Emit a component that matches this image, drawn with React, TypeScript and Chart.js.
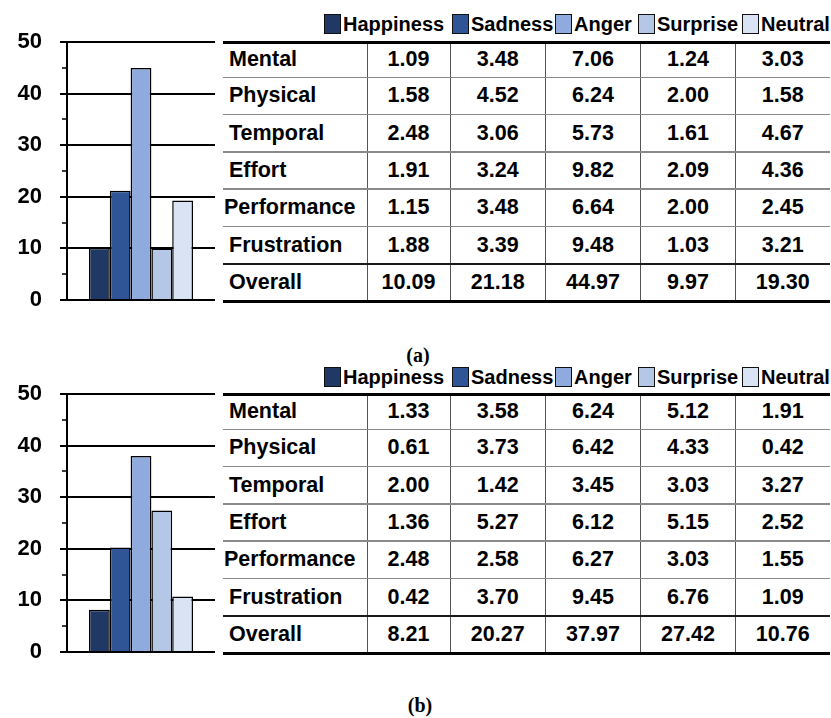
import React, { useEffect, useRef } from 'react';
import { Chart, registerables } from 'chart.js';
Chart.register(...registerables);

// ---------- data ----------
const EMOTIONS = ['Happiness', 'Sadness', 'Anger', 'Surprise', 'Neutral'];
const SUBSCALES = ['Mental', 'Physical', 'Temporal', 'Effort', 'Performance', 'Frustration'];
const TOTAL_LABEL = 'Overall';
const Y_TICKS = [0, 10, 20, 30, 40, 50];
const Y_MINOR_TICKS = [5, 15, 25, 35, 45];
const CAPTIONS = ['(a)', '(b)'];

// panel (a)
const A_HAPPINESS = [1.09, 1.58, 2.48, 1.91, 1.15, 1.88];
const A_SADNESS = [3.48, 4.52, 3.06, 3.24, 3.48, 3.39];
const A_ANGER = [7.06, 6.24, 5.73, 9.82, 6.64, 9.48];
const A_SURPRISE = [1.24, 2.0, 1.61, 2.09, 2.0, 1.03];
const A_NEUTRAL = [3.03, 1.58, 4.67, 4.36, 2.45, 3.21];
const A_OVERALL = [10.09, 21.18, 44.97, 9.97, 19.3];

// panel (b)
const B_HAPPINESS = [1.33, 0.61, 2.0, 1.36, 2.48, 0.42];
const B_SADNESS = [3.58, 3.73, 1.42, 5.27, 2.58, 3.7];
const B_ANGER = [6.24, 6.42, 3.45, 6.12, 6.27, 9.45];
const B_SURPRISE = [5.12, 4.33, 3.03, 5.15, 3.03, 6.76];
const B_NEUTRAL = [1.91, 0.42, 3.27, 2.52, 1.55, 1.09];
const B_OVERALL = [8.21, 20.27, 37.97, 27.42, 10.76];

// ---------- styles / layout ----------
const COLORS = ['#203864', '#2F5597', '#8FAADC', '#B4C7E7', '#DAE3F3'];
const SANS = '"Liberation Sans", Arial, Helvetica, sans-serif';
const COL_X = [223, 367, 450, 545.5, 640.5, 735.5, 830];
const LEGEND_X = [324, 452, 555, 638, 742];
const ROW_YS = [42, 77.3, 114.6, 151.9, 189.2, 226.5, 263.8, 301];
const CHART_PAD = 34;

const PANELS = [
  { dy: 0, legendTop: 14, captionY: 355, captionX: 418,
    cols: [A_HAPPINESS, A_SADNESS, A_ANGER, A_SURPRISE, A_NEUTRAL], overall: A_OVERALL },
  { dy: 352, legendTop: 367, captionY: 705, captionX: 420,
    cols: [B_HAPPINESS, B_SADNESS, B_ANGER, B_SURPRISE, B_NEUTRAL], overall: B_OVERALL },
];

function BarChart({ values, top }: { values: number[]; top: number }) {
  const ref = useRef<HTMLCanvasElement>(null);
  useEffect(() => {
    if (!ref.current) return;
    const minorTicks = {
      id: 'minorTicks',
      afterDraw(chart: any) {
        const y = chart.scales.y;
        const ctx = chart.ctx;
        ctx.save();
        ctx.strokeStyle = '#000';
        ctx.lineWidth = 1.5;
        ctx.beginPath();
        for (const v of Y_MINOR_TICKS) {
          const py = Math.round(y.getPixelForValue(v));
          ctx.moveTo(y.right - 5, py);
          ctx.lineTo(y.right, py);
        }
        ctx.stroke();
        ctx.restore();
      },
    };
    const chart = new Chart(ref.current, {
      type: 'bar',
      data: {
        labels: [''],
        datasets: EMOTIONS.map((e, i) => ({
          label: e,
          data: [values[i]],
          backgroundColor: COLORS[i],
          borderColor: '#000',
          borderWidth: 1.5,
          categoryPercentage: 0.703,
          barPercentage: 1,
        })),
      },
      options: {
        responsive: false,
        maintainAspectRatio: false,
        animation: false,
        layout: { padding: { top: CHART_PAD, bottom: CHART_PAD, left: 0, right: 1 } },
        plugins: { legend: { display: false }, tooltip: { enabled: false } },
        scales: {
          x: { display: false },
          y: {
            min: 0,
            max: 50,
            afterFit(s: any) { s.width = 67; },
            afterBuildTicks(s: any) { s.ticks = Y_TICKS.map((v) => ({ value: v })); },
            border: { display: true, color: '#000', width: 2 },
            grid: { color: '#000', lineWidth: 2, tickLength: 7, drawTicks: true },
            ticks: {
              color: '#000',
              padding: 18,
              font: { family: SANS, size: 22, weight: 'bold' },
            },
          },
        },
      } as any,
      plugins: [minorTicks],
    });
    return () => chart.destroy();
  }, [values]);
  const h = 258 + 2 * CHART_PAD;
  return (
    <canvas
      ref={ref}
      width={216}
      height={h}
      style={{ position: 'absolute', left: 0, top, width: 216, height: h }}
    />
  );
}

function Legend({ top }: { top: number }) {
  return (
    <>
      {EMOTIONS.map((e, i) => (
        <div
          key={e}
          style={{
            position: 'absolute', left: LEGEND_X[i], top, height: 20,
            display: 'flex', alignItems: 'center', whiteSpace: 'nowrap',
            fontFamily: SANS, fontWeight: 'bold', fontSize: 20, color: '#000',
          }}
        >
          <div style={{
            width: 17, height: 20, boxSizing: 'border-box', background: COLORS[i],
            border: '1.5px solid #111', marginRight: 2,
          }} />
          <span style={{ lineHeight: '20px' }}>{e}</span>
        </div>
      ))}
    </>
  );
}

function Table({ dy, cols, overall }: { dy: number; cols: number[][]; overall: number[] }) {
  const ys = ROW_YS.map((y) => y + dy);
  const rows = [
    ...SUBSCALES.map((s, r) => ({ label: s, vals: cols.map((c) => c[r]) })),
    { label: TOTAL_LABEL, vals: overall },
  ];
  const left = COL_X[0];
  const right = COL_X[COL_X.length - 1];
  const hline = (y: number, h: number, color: string, key: string) => (
    <div key={key} style={{ position: 'absolute', left, width: right - left, top: y - h / 2, height: h, background: color }} />
  );
  const els: any[] = [];
  rows.forEach((row, r) => {
    const y0 = ys[r];
    const y1 = ys[r + 1];
    els.push(
      <div key={'l' + r} style={{
        position: 'absolute', left: left + (row.label === 'Performance' ? 1 : 6), top: y0, height: y1 - y0,
        display: 'flex', alignItems: 'center', fontFamily: SANS, fontWeight: 'bold', fontSize: 21.5, color: '#000', whiteSpace: 'nowrap',
      }}>{row.label}</div>
    );
    row.vals.forEach((v, c) => {
      els.push(
        <div key={'v' + r + '_' + c} style={{
          position: 'absolute', left: COL_X[c + 1], width: COL_X[c + 2] - COL_X[c + 1], top: y0, height: y1 - y0,
          display: 'flex', alignItems: 'center', justifyContent: 'center',
          fontFamily: SANS, fontWeight: 'bold', fontSize: 21.5, color: '#000',
        }}>{v.toFixed(2)}</div>
      );
    });
  });
  for (let c = 1; c < COL_X.length - 1; c++) {
    els.push(<div key={'vl' + c} style={{ position: 'absolute', left: COL_X[c] - 0.5, width: 1.2, top: ys[0], height: ys[ys.length - 1] - ys[0], background: '#555' }} />);
  }
  ys.forEach((y, i) => {
    if (i === 0 || i === ys.length - 1) els.push(hline(y, 3, '#000', 'h' + i));
    else if (i === ys.length - 2) els.push(hline(y, 2.2, '#1a1a1a', 'h' + i));
    else els.push(hline(y, 1.5, '#8a8a8a', 'h' + i));
  });
  return <>{els}</>;
}

export default function App() {
  return (
    <div style={{ position: 'fixed', left: 0, top: 0, width: 831, height: 718, background: '#fff', overflow: 'hidden' }}>
      {PANELS.map((p, i) => (
        <React.Fragment key={i}>
          <BarChart values={p.overall} top={42 - CHART_PAD + p.dy} />
          <Legend top={p.legendTop} />
          <Table dy={p.dy} cols={p.cols} overall={p.overall} />
          <div style={{
            position: 'absolute', left: p.captionX - 40, width: 80, top: p.captionY - 12, height: 24,
            display: 'flex', alignItems: 'center', justifyContent: 'center',
            fontFamily: '"Liberation Serif", "DejaVu Serif", serif', fontWeight: 'bold', fontSize: 20, color: '#000',
          }}>{CAPTIONS[i]}</div>
        </React.Fragment>
      ))}
    </div>
  );
}
